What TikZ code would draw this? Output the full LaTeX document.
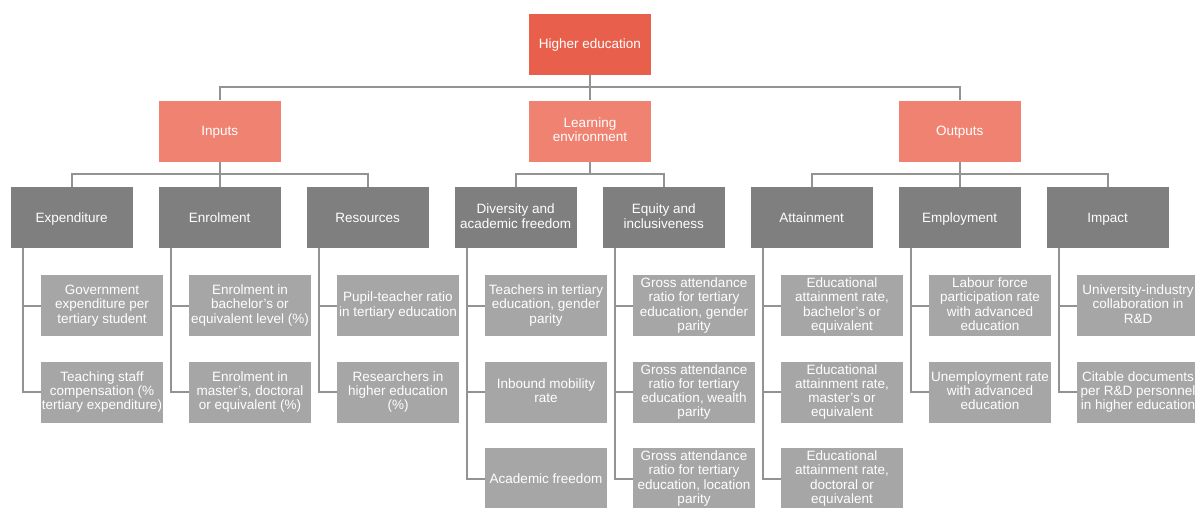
\documentclass[tikz,border=0pt]{standalone}
\usepackage{fontspec}
\setmainfont{Liberation Sans}
\definecolor{topred}{HTML}{E8604C}
\definecolor{catred}{HTML}{F08272}
\definecolor{darkgrey}{HTML}{7F7F7F}
\definecolor{lightgrey}{HTML}{A6A6A6}
\definecolor{linkgrey}{HTML}{939393}
\newcommand{\boxstrut}{\rule[-2.8pt]{0pt}{15.3pt}}
\tikzset{
  box/.style={shape=rectangle, inner sep=0pt, align=center, text=white,
    minimum width=122pt, minimum height=61pt,
    font=\fontsize{13.5}{14.2}\selectfont,
    execute at begin node=\boxstrut, execute at end node=\boxstrut},
  topbox/.style={box, fill=topred},
  catbox/.style={box, fill=catred},
  groupbox/.style={box, fill=darkgrey},
  itembox/.style={box, fill=lightgrey},
  link/.style={draw=linkgrey, line width=2pt}
}
\begin{document}
\begin{tikzpicture}[x=1pt, y=-1pt]
\useasboundingbox (0,0) rectangle (1195,507);
\clip (0,0) rectangle (1195,507);
% top and categories
\node (he) [topbox] at (590,44) {Higher education};
\node (inputs) [catbox] at (219.7,131) {Inputs};
\node (learnenv) [catbox] at (590,131) {Learning\\environment};
\node (outputs) [catbox] at (959.7,131) {Outputs};
% groups
\node (expend) [groupbox] at (71.7,217.5) {Expenditure};
\node (enrol) [groupbox] at (219.7,217.5) {Enrolment};
\node (resrc) [groupbox] at (367.7,217.5) {Resources};
\node (divers) [groupbox] at (515.7,217.5) {Diversity and\\academic freedom};
\node (equity) [groupbox] at (663.7,217.5) {Equity and\\inclusiveness};
\node (attain) [groupbox] at (811.7,217.5) {Attainment};
\node (employ) [groupbox] at (959.7,217.5) {Employment};
\node (impact) [groupbox] at (1107.7,217.5) {Impact};
% indicators
\node (govexp) [itembox] at (102,305.5) {Government\\expenditure per\\tertiary student};
\node (teachcomp) [itembox] at (102,392) {Teaching staff\\compensation (\%\\tertiary expenditure)};
\node (enrolba) [itembox] at (250,305.5) {Enrolment in\\bachelor's or\\equivalent level (\%)};
\node (enrolma) [itembox] at (250,392) {Enrolment in\\master's, doctoral\\or equivalent (\%)};
\node (ptratio) [itembox] at (398,305.5) {Pupil-teacher ratio\\in tertiary education};
\node (research) [itembox] at (398,392) {Researchers in\\higher education\\(\%)};
\node (teachgp) [itembox] at (546,305.5) {Teachers in tertiary\\education, gender\\parity};
\node (inbound) [itembox] at (546,392) {Inbound mobility\\rate};
\node (acadfree) [itembox] at (546,478.5) {Academic freedom};
\node (gargender) [itembox] at (694,305.5) {Gross attendance\\ratio for tertiary\\education, gender\\parity};
\node (garwealth) [itembox] at (694,392) {Gross attendance\\ratio for tertiary\\education, wealth\\parity};
\node (garloc) [itembox] at (694,478.5) {Gross attendance\\ratio for tertiary\\education, location\\parity};
\node (eduba) [itembox] at (842,305.5) {Educational\\attainment rate,\\bachelor's or\\equivalent};
\node (eduma) [itembox] at (842,392) {Educational\\attainment rate,\\master's or\\equivalent};
\node (edudoc) [itembox] at (842,478.5) {Educational\\attainment rate,\\doctoral or\\equivalent};
\node (lfpart) [itembox] at (990,305.5) {Labour force\\participation rate\\with advanced\\education};
\node (unemp) [itembox] at (990,392) {Unemployment rate\\with advanced\\education};
\node (uicollab) [itembox] at (1138,305.5) {University-industry\\collaboration in\\R\&D};
\node (citdocs) [itembox] at (1138,392) {Citable documents\\per R\&D personnel\\in higher education};
% links top to categories
\draw[link] (he) -- (learnenv);
\draw[link] (inputs.north) -- ++(0,-13) -| (outputs.north);
% links categories to groups
\draw[link] (inputs) -- (enrol);
\draw[link] (expend.north) -- ++(0,-13) -| (resrc.north);
\draw[link] (learnenv.south) -- ++(0,12.5);
\draw[link] (divers.north) -- ++(0,-13) -| (equity.north);
\draw[link] (outputs) -- (employ);
\draw[link] (attain.north) -- ++(0,-13) -| (impact.north);
% links groups to indicators
\draw[link] ([xshift=12pt]expend.south west) |- (govexp.west);
\draw[link] ([xshift=12pt]expend.south west) |- (teachcomp.west);
\draw[link] ([xshift=12pt]enrol.south west) |- (enrolba.west);
\draw[link] ([xshift=12pt]enrol.south west) |- (enrolma.west);
\draw[link] ([xshift=12pt]resrc.south west) |- (ptratio.west);
\draw[link] ([xshift=12pt]resrc.south west) |- (research.west);
\draw[link] ([xshift=12pt]divers.south west) |- (teachgp.west);
\draw[link] ([xshift=12pt]divers.south west) |- (inbound.west);
\draw[link] ([xshift=12pt]divers.south west) |- (acadfree.west);
\draw[link] ([xshift=12pt]equity.south west) |- (gargender.west);
\draw[link] ([xshift=12pt]equity.south west) |- (garwealth.west);
\draw[link] ([xshift=12pt]equity.south west) |- (garloc.west);
\draw[link] ([xshift=12pt]attain.south west) |- (eduba.west);
\draw[link] ([xshift=12pt]attain.south west) |- (eduma.west);
\draw[link] ([xshift=12pt]attain.south west) |- (edudoc.west);
\draw[link] ([xshift=12pt]employ.south west) |- (lfpart.west);
\draw[link] ([xshift=12pt]employ.south west) |- (unemp.west);
\draw[link] ([xshift=12pt]impact.south west) |- (uicollab.west);
\draw[link] ([xshift=12pt]impact.south west) |- (citdocs.west);
\end{tikzpicture}
\end{document}
